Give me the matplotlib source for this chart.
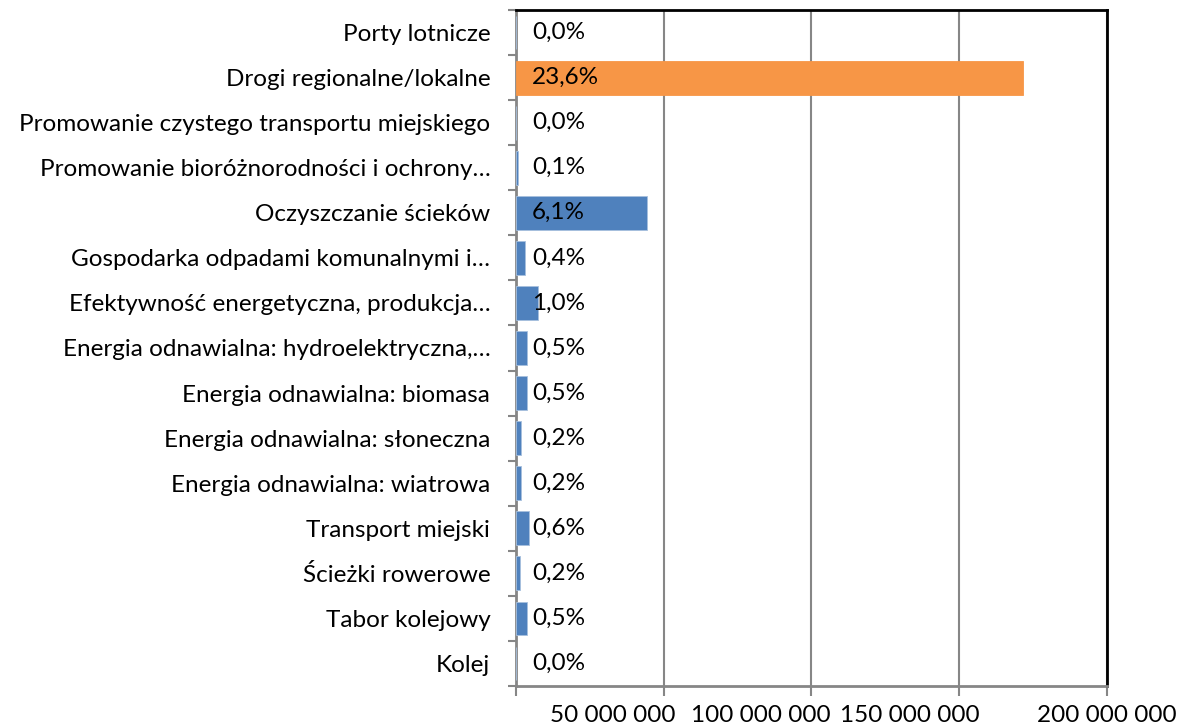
import matplotlib
matplotlib.use("Agg")
from matplotlib import pyplot as plt
from matplotlib.transforms import ScaledTranslation
import numpy as np

plt.rcParams['font.family'] = ['Lato', 'DejaVu Sans']

# categories bottom -> top
categories = [
    'Kolej',
    'Tabor kolejowy',
    'Ścieżki rowerowe',
    'Transport miejski',
    'Energia odnawialna: wiatrowa',
    'Energia odnawialna: słoneczna',
    'Energia odnawialna: biomasa',
    'Energia odnawialna: hydroelektryczna,…',
    'Efektywność energetyczna, produkcja…',
    'Gospodarka odpadami komunalnymi i…',
    'Oczyszczanie ścieków',
    'Promowanie bioróżnorodności i ochrony…',
    'Promowanie czystego transportu miejskiego',
    'Drogi regionalne/lokalne',
    'Porty lotnicze',
]
# amounts (PLN)
values = [0, 3.7e6, 1.3e6, 4.3e6, 1.6e6, 1.6e6, 3.7e6, 3.7e6, 7.4e6, 3.0e6,
          44.5e6, 0.7e6, 0, 171.6e6, 0]
pct_labels = ['0,0%', '0,5%', '0,2%', '0,6%', '0,2%', '0,2%', '0,5%', '0,5%',
              '1,0%', '0,4%', '6,1%', '0,1%', '0,0%', '23,6%', '0,0%']
highlight = 'Drogi regionalne/lokalne'

xticks = [0, 50e6, 100e6, 150e6, 200e6]
xticklabels = ['', '50 000 000', '100 000 000', '150 000 000', '200 000 000']

blue = '#4F81BD'
orange = '#F79646'
grid_gray = '#868686'
fs = 17.5

fig = plt.figure(figsize=(11.81, 7.24), dpi=100)
ax = fig.add_axes([516 / 1181, 1 - 686 / 724, (1107 - 516) / 1181, (686 - 10) / 724])

y = np.arange(len(categories))
colors = [orange if c == highlight else blue for c in categories]
ax.barh(y, values, height=0.75, color=colors, edgecolor='#A7C0DE',
        linewidth=0.6, zorder=3)
for bar, c in zip(ax.patches, categories):
    if c == highlight:
        bar.set_edgecolor(orange)

off = ScaledTranslation(16 / 100, 0, fig.dpi_scale_trans)
for yi, lab in zip(y, pct_labels):
    ax.text(0, yi, lab, transform=ax.get_yaxis_transform() + off,
            ha='left', va='center', fontsize=fs, zorder=4)

ax.set_xlim(0, 200e6)
ax.set_ylim(-0.5, len(categories) - 0.5)

ax.set_yticks(y)
ax.set_yticklabels(categories, fontsize=fs)
ax.set_yticks(np.arange(-0.5, len(categories), 1), minor=True)
ax.tick_params(axis='y', which='major', length=0, pad=18.5)
ax.tick_params(axis='y', which='minor', length=6, width=1.5, color=grid_gray, direction='out')

ax.set_xticks(xticks)
ax.set_xticklabels(xticklabels, fontsize=fs)
ax.tick_params(axis='x', length=7, width=1.5, color=grid_gray, direction='out', pad=6.5)
shifts = [0, -51, -51, -49, 0]
for lab, s in zip(ax.get_xticklabels(), shifts):
    lab.set_transform(lab.get_transform() + ScaledTranslation(s / 100, 0, fig.dpi_scale_trans))

ax.xaxis.grid(True, color=grid_gray, linewidth=1.5, zorder=0)
ax.set_axisbelow(True)

ax.spines['left'].set_color(grid_gray)
ax.spines['left'].set_linewidth(2)
ax.spines['bottom'].set_color(grid_gray)
ax.spines['bottom'].set_linewidth(2)
ax.spines['top'].set_color('black')
ax.spines['top'].set_linewidth(2)
ax.spines['right'].set_color('black')
ax.spines['right'].set_linewidth(2)

fig.savefig('out.png', dpi=100)
